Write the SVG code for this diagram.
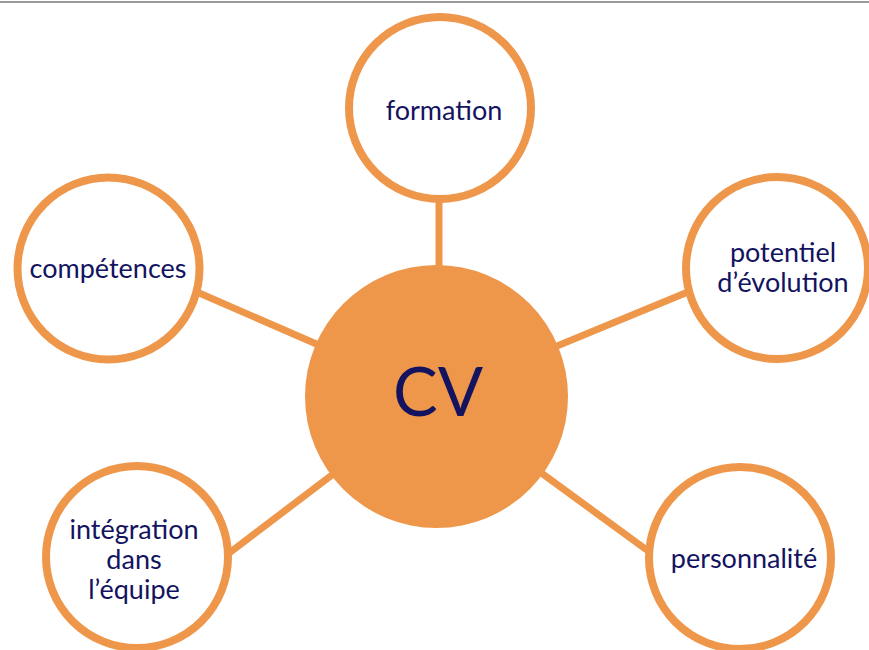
<svg xmlns="http://www.w3.org/2000/svg" width="869" height="650" viewBox="0 0 869 650">
<style>
.node{fill:#fff;stroke:#EE974B;stroke-width:8}
.hub{fill:#EE974B;stroke:none}
.conn line{stroke:#EE974B;stroke-width:7}
text{font-family:Lato,"Open Sans",sans-serif;fill:#13135F;text-anchor:middle}
.lbl{font-size:27px}
</style>
<rect width="869" height="650" fill="#fff"/>
<line x1="0" y1="2" x2="869" y2="2" stroke="#9A9A9A" stroke-width="2"/>
<g id="connectors" class="conn">
<line x1="439" y1="300" x2="439" y2="190"/>
<line x1="436" y1="396" x2="190" y2="289"/>
<line x1="436" y1="396" x2="700" y2="287"/>
<line x1="436" y1="396" x2="220" y2="560"/>
<line x1="436" y1="396" x2="655" y2="556"/>
</g>
<g id="cv">
<circle class="hub" cx="436.5" cy="396.5" r="131.5"/>
<text x="438" y="416" font-size="67">CV</text>
</g>
<g id="formation">
<circle class="node" cx="440" cy="108" r="91"/>
<text class="lbl" x="444" y="120">formation</text>
</g>
<g id="competences">
<circle class="node" cx="108.5" cy="268.5" r="91"/>
<text class="lbl" x="108" y="278">compétences</text>
</g>
<g id="potentiel">
<circle class="node" cx="777" cy="268" r="91"/>
<text class="lbl"><tspan x="783" y="262">potentiel</tspan><tspan x="783" y="292">d’évolution</tspan></text>
</g>
<g id="integration">
<circle class="node" cx="137" cy="557" r="91"/>
<text class="lbl"><tspan x="134" y="539">intégration</tspan><tspan x="134" y="569">dans</tspan><tspan x="134" y="599">l’équipe</tspan></text>
</g>
<g id="personnalite">
<circle class="node" cx="740" cy="558" r="91"/>
<text class="lbl" x="744" y="568">personnalité</text>
</g>
</svg>
